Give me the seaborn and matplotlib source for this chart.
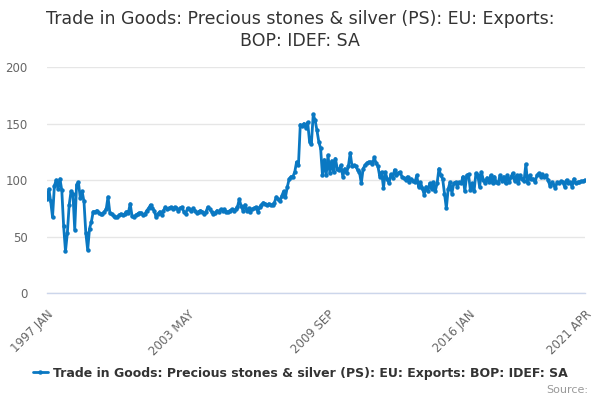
import matplotlib
matplotlib.use("Agg")
import matplotlib.pyplot as plt
import seaborn as sns
import pandas as pd
import numpy as np

title = "Trade in Goods: Precious stones & silver (PS): EU: Exports:\nBOP: IDEF: SA"
series_name = "Trade in Goods: Precious stones & silver (PS): EU: Exports: BOP: IDEF: SA"

# monthly values Jan 1997 .. Apr 2021
values_1997_1999 = [83, 92, 81, 67, 95, 100, 92, 101, 91, 59, 37, 53,
                    78, 90, 88, 56, 96, 98, 84, 90, 81, 53, 38, 57,
                    63, 72, 72, 73, 71, 70, 70, 72, 74, 85, 71, 70]
values_2000_2002 = [68, 67, 67, 69, 70, 69, 70, 72, 71, 79, 68, 67,
                    69, 70, 71, 71, 69, 70, 73, 75, 78, 75, 73, 67,
                    70, 72, 69, 73, 76, 74, 75, 76, 74, 76, 75, 73]
values_2003_2005 = [75, 76, 72, 70, 75, 74, 73, 75, 73, 71, 72, 73,
                    72, 70, 72, 76, 74, 72, 70, 71, 73, 72, 74, 73,
                    74, 72, 72, 73, 74, 73, 74, 76, 83, 77, 73, 78]
values_2006_2008 = [73, 75, 72, 74, 75, 76, 72, 76, 78, 80, 79, 78,
                    79, 78, 78, 80, 85, 83, 81, 86, 90, 85, 94, 101,
                    103, 103, 107, 116, 113, 149, 148, 150, 146, 151, 134, 132]
values_2009_2011 = [158, 153, 144, 134, 128, 104, 118, 104, 122, 106, 117, 107,
                    119, 110, 109, 113, 103, 110, 106, 112, 124, 112, 113, 112,
                    109, 107, 97, 110, 113, 115, 116, 116, 114, 120, 115, 112]
values_2012_2014 = [103, 107, 93, 107, 101, 97, 105, 102, 109, 104, 106, 107,
                    103, 102, 100, 103, 98, 101, 99, 98, 104, 94, 98, 93,
                    87, 94, 90, 97, 92, 98, 90, 97, 110, 104, 101, 88]
values_2015_2017 = [75, 92, 98, 88, 97, 98, 94, 98, 97, 103, 90, 104,
                    105, 91, 97, 90, 106, 104, 94, 107, 100, 97, 102, 98,
                    104, 97, 103, 98, 97, 104, 99, 103, 97, 104, 98, 103]
values_2018_2021 = [106, 99, 104, 97, 104, 101, 99, 114, 97, 104, 101, 101,
                    98, 104, 106, 103, 105, 103, 104, 100, 95, 98, 96, 93,
                    98, 97, 99, 98, 94, 100, 97, 98, 94, 101, 97, 98,
                    98, 99, 99, 100]

values = (values_1997_1999 + values_2000_2002 + values_2003_2005 + values_2006_2008
          + values_2009_2011 + values_2012_2014 + values_2015_2017 + values_2018_2021)

tick_labels = ["1997 JAN", "2003 MAY", "2009 SEP", "2016 JAN", "2021 APR"]
y_ticks = [0, 50, 100, 150, 200]

n = len(values)
df = pd.DataFrame({"month": np.arange(n), "value": values, "series": series_name})

color = "#0a78c2"

sns.set_theme(style="white")
plt.rcParams["font.family"] = ["DejaVu Sans"]

fig = plt.figure(figsize=(6, 4), dpi=100)
ax = fig.add_axes([47 / 600, 1 - 293 / 400, (585 - 47) / 600, (293 - 67) / 400])

sns.lineplot(data=df, x="month", y="value", hue="series", palette=[color],
             marker="o", markersize=3.2, markeredgewidth=0, linewidth=2,
             ax=ax, legend=True)

ax.set_xlim(0, n - 1)
ax.set_ylim(0, 200)
ax.set_yticks(y_ticks)
ax.set_yticklabels([str(v) for v in y_ticks], color="#666666", fontsize=8.5)
ax.yaxis.grid(True, color="#e6e6e6", linewidth=1)
ax.set_axisbelow(True)
ax.tick_params(axis="y", length=0, pad=14)

major_pos = [0, 76, 152, 228, n - 1]
minor_pos = [p for p in range(0, n, 19) if p not in major_pos]
ax.set_xticks(major_pos)
ax.set_xticklabels(tick_labels, rotation=45, ha="right", rotation_mode="anchor",
                   color="#666666", fontsize=8.5)
ax.set_xticks(minor_pos, minor=True)
ax.tick_params(axis="x", which="both", length=7, width=1, color="#ccd6eb", direction="out", pad=4)

for s in ["top", "right", "left"]:
    ax.spines[s].set_visible(False)
ax.spines["bottom"].set_color("#ccd6eb")
ax.spines["bottom"].set_linewidth(1)
ax.set_xlabel("")
ax.set_ylabel("")

fig.text(0.5, 1 - 30 / 400, title, ha="center", va="center", fontsize=12.5,
         color="#333333", linespacing=1.35)

handles, labels = ax.get_legend_handles_labels()
ax.legend_.remove()
fig.legend(handles, labels, loc="center", bbox_to_anchor=(0.5, 1 - 373 / 400),
           frameon=False, prop={"weight": "bold", "size": 9}, handlelength=1.2,
           handletextpad=0.4, labelcolor="#333333")

fig.text(588 / 600, 1 - 390 / 400, "Source:", ha="right", va="center",
         fontsize=8, color="#999999")

fig.savefig("out.png", dpi=100)
